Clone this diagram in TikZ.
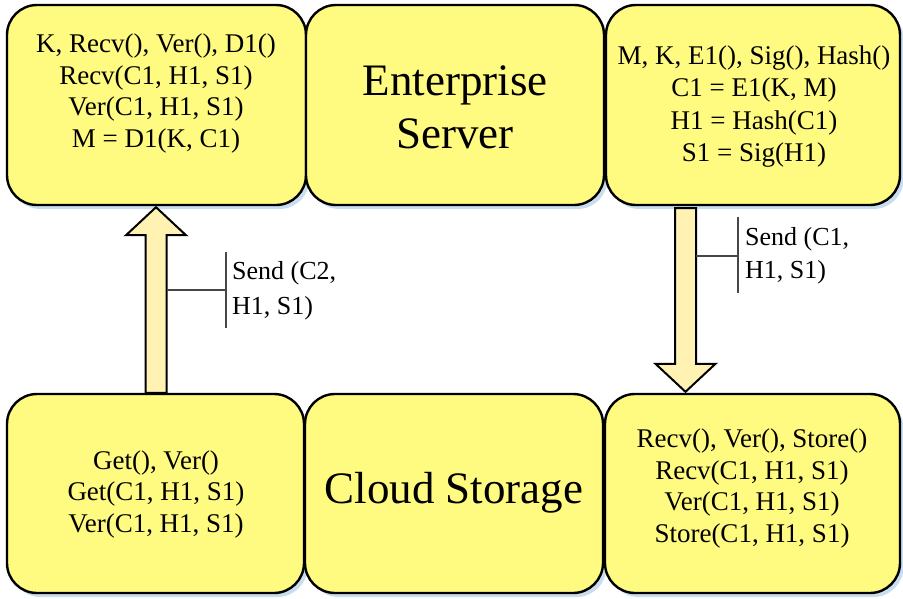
\documentclass[tikz,border=0pt]{standalone}
\usepackage{fontspec}
\setmainfont{Liberation Serif}
\usetikzlibrary{shadows,calc}
\definecolor{boxyellow}{RGB}{255,250,128}
\definecolor{arrowyellow}{RGB}{255,242,178}
\definecolor{shadowblue}{RGB}{200,222,238}
\definecolor{labelline}{RGB}{70,70,70}
\tikzset{
  box/.style={draw=black, line width=2.4pt, fill=boxyellow, rounded corners=30pt,
    inner sep=0pt, minimum height=200pt,
    drop shadow={shadow xshift=3.5pt, shadow yshift=-4pt, fill=shadowblue, opacity=1}},
  boxtext/.style={align=center, font=\fontsize{27pt}{31.5pt}\selectfont, inner sep=0pt},
  bigtext/.style={align=center, font=\fontsize{45pt}{53pt}\selectfont, inner sep=0pt},
  labeltext/.style={align=left, anchor=west, inner sep=0pt},
  bigarrow/.style={draw=black, line width=2pt, fill=arrowyellow, line join=miter},
  tick/.style={draw=labelline, line width=1.4pt}
}
\begin{document}
\begin{tikzpicture}[x=1pt,y=-1pt]
\useasboundingbox (0,0) rectangle (903,598);
% boxes
\node[box, minimum width=299pt] (TL) at (156.5,105) {};
\node[box, minimum width=298pt] (TM) at (455,105) {};
\node[box, minimum width=294pt] (TR) at (753,105) {};
\node[box, minimum width=297pt, minimum height=199pt] (BL) at (155.5,493.5) {};
\node[box, minimum width=298pt, minimum height=199pt] (BM) at (454,493.5) {};
\node[box, minimum width=295pt, minimum height=199pt] (BR) at (752.5,493.5) {};
% texts
\node[boxtext] (TLt) at (156,93.5) {K, Recv(), Ver(), D1()\\Recv(C1, H1, S1)\\Ver(C1, H1, S1)\\M = D1(K, C1)};
\node[bigtext] (TMt) at (455,107) {Enterprise\\Server};
\node[boxtext, font=\fontsize{27pt}{32.5pt}\selectfont] (TRt) at (754,106.5) {M, K, E1(), Sig(), Hash()\\C1 = E1(K, M)\\H1 = Hash(C1)\\S1 = Sig(H1)};
\node[boxtext] (BLt) at (156,494) {Get(), Ver()\\Get(C1, H1, S1)\\Ver(C1, H1, S1)};
\node[bigtext] (BMt) at (454,493) {Cloud Storage};
\node[boxtext] (BRt) at (752,488.5) {Recv(), Ver(), Store()\\Recv(C1, H1, S1)\\Ver(C1, H1, S1)\\Store(C1, H1, S1)};
% arrows
\coordinate (ax1) at (156,0);
\coordinate (ax2) at (685.5,0);
\draw[bigarrow] let \p1=(BL.north -| ax1), \p2=(TL.south -| ax1) in
  (\x1-10.5pt,\y1) -- (\x1-10.5pt,\y2-29pt) -- (\x1-30pt,\y2-29pt) -- (\x1,\y2-1pt)
  -- (\x1+30pt,\y2-29pt) -- (\x1+10.5pt,\y2-29pt) -- (\x1+10.5pt,\y1) -- cycle;
\draw[bigarrow] let \p1=(TR.south -| ax2), \p2=(BR.north -| ax2) in
  (\x1-10.5pt,\y1-2pt) -- (\x1-10.5pt,\y2+29pt) -- (\x1-30pt,\y2+29pt) -- (\x1,\y2+1pt)
  -- (\x1+30pt,\y2+29pt) -- (\x1+10.5pt,\y2+29pt) -- (\x1+10.5pt,\y1-2pt) -- cycle;
% labels
\coordinate (l1a) at (166.5,290);
\coordinate (l1b) at (226,290);
\coordinate (l1t) at (226,252);
\coordinate (l1d) at (226,328);
\draw[tick] (l1a) -- (l1b);
\draw[tick] (l1t) -- (l1d);
\node[labeltext, font=\fontsize{26pt}{35pt}\selectfont] (L1) at (232,290.5) {Send (C2,\\H1, S1)};
\coordinate (l2a) at (696,256);
\coordinate (l2b) at (738,256);
\coordinate (l2t) at (738,217);
\coordinate (l2d) at (738,293);
\draw[tick] (l2a) -- (l2b);
\draw[tick] (l2t) -- (l2d);
\node[labeltext, font=\fontsize{26pt}{33pt}\selectfont] (L2) at (745,255.5) {Send (C1,\\H1, S1)};
\end{tikzpicture}
\end{document}
